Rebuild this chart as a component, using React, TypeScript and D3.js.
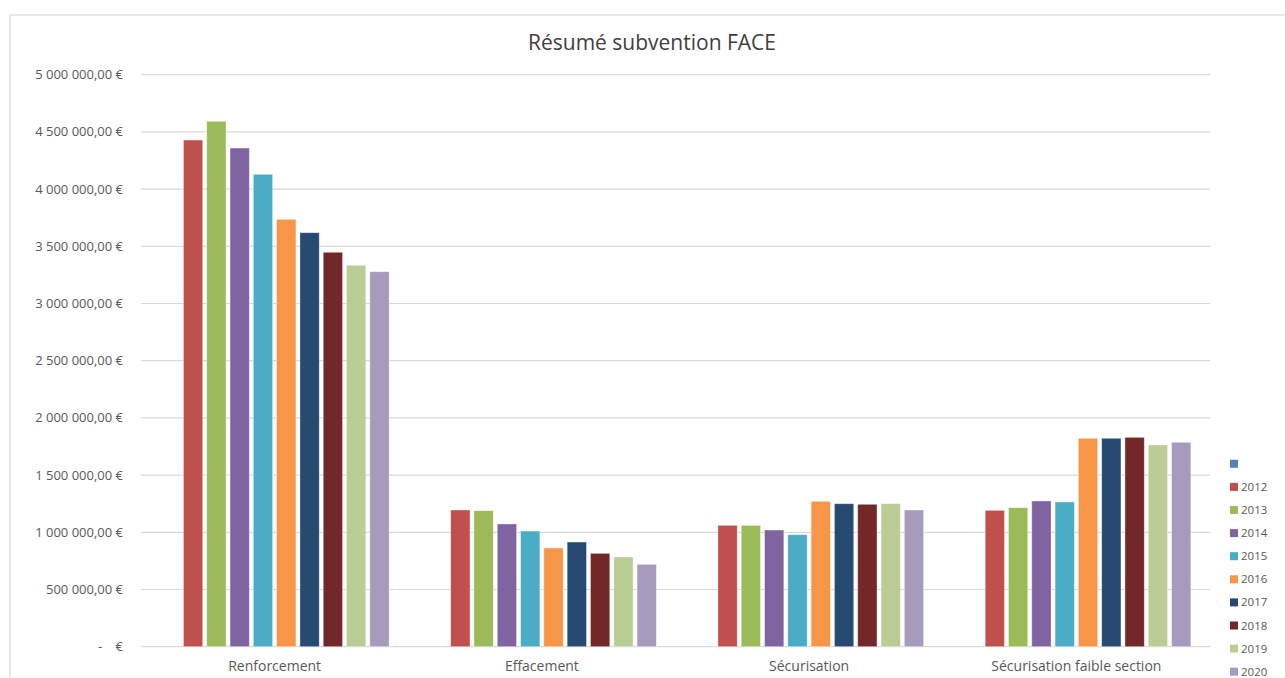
import * as d3 from "d3";

const categories = ["Renforcement", "Effacement", "Sécurisation", "Sécurisation faible section"];
const seriesNames = ["", "2012", "2013", "2014", "2015", "2016", "2017", "2018", "2019", "2020"];
const yTicks = [0, 500000, 1000000, 1500000, 2000000, 2500000, 3000000, 3500000, 4000000, 4500000, 5000000];

// first (unnamed) series is empty in the source chart
const vBlank = [0, 0, 0, 0];
const v2012 = [4429000, 1195000, 1061000, 1192000];
const v2013 = [4593000, 1189000, 1061000, 1215000];
const v2014 = [4359000, 1073000, 1020000, 1274000];
const v2015 = [4129000, 1011000, 979000, 1265000];
const v2016 = [3736000, 863000, 1271000, 1822000];
const v2017 = [3619000, 915000, 1250000, 1822000];
const v2018 = [3448000, 816000, 1245000, 1830000];
const v2019 = [3334000, 784000, 1250000, 1763000];
const v2020 = [3278000, 720000, 1195000, 1787000];
const seriesValues = [vBlank, v2012, v2013, v2014, v2015, v2016, v2017, v2018, v2019, v2020];

const colors = ["#4F81BD", "#C0504D", "#9BBB59", "#8064A2", "#4BACC6", "#F79646", "#274A72", "#722828", "#BACD94", "#A69BBC"];

const W = 1285;
const H = 678;
const textColor = "#595959";
const font = "'Open Sans', 'Liberation Sans', sans-serif";

const locale = d3.formatLocale({ decimal: ",", thousands: "\u00a0", grouping: [3], currency: ["", " €"] });
const fmt = locale.format(",.2f");
const tickLabel = (v: number) => (v === 0 ? "-\u00a0\u00a0\u00a0\u00a0€" : `${fmt(v)} €`);

export default function App() {
  const x = d3.scaleBand<string>().domain(categories).range([141, 1210]).padding(0);
  const xs = d3
    .scaleBand<string>()
    .domain(seriesNames.map((_, i) => String(i)))
    .range([0, x.bandwidth()])
    .paddingInner(0.17)
    .paddingOuter(0.82);
  const y = d3.scaleLinear().domain([0, 5000000]).range([646.7, 74.7]);

  return (
    <svg
      width={W}
      height={H}
      style={{ position: "absolute", left: 0, top: 0, display: "block", background: "#fff" }}
      fontFamily={font}
    >
      <rect x={10} y={15} width={W + 20} height={H + 20} fill="#fff" stroke="#D9D9D9" strokeWidth={1.2} />
      <text x={652} y={50} textAnchor="middle" fontSize={21} fill="#404040">
        Résumé subvention FACE
      </text>

      {yTicks.map((t) => (
        <g key={t}>
          <line x1={141} x2={1210} y1={y(t)} y2={y(t)} stroke="#D9D9D9" strokeWidth={1.2} />
          <text x={123} y={y(t)} dy="0.35em" textAnchor="end" fontSize={13} fill={textColor}>
            {tickLabel(t)}
          </text>
        </g>
      ))}

      {categories.map((c, ci) => (
        <g key={c} transform={`translate(${x(c)},0)`}>
          {seriesValues.map((vals, si) =>
            vals[ci] > 0 ? (
              <rect
                key={si}
                x={xs(String(si))}
                y={y(vals[ci])}
                width={xs.bandwidth()}
                height={y(0) - y(vals[ci])}
                fill={colors[si]}
                stroke="#fff"
                strokeOpacity={0.5}
                strokeWidth={0.8}
              />
            ) : null
          )}
          <text x={x.bandwidth() / 2} y={671} textAnchor="middle" fontSize={14} fill={textColor}>
            {c}
          </text>
        </g>
      ))}

      {seriesNames.map((s, i) => (
        <g key={i} transform={`translate(1230,${463.8 + i * 23.1})`}>
          <rect x={0} y={-4} width={8} height={8} fill={colors[i]} />
          <text x={11} y={0} dy="0.35em" fontSize={11.5} fill={textColor}>
            {s}
          </text>
        </g>
      ))}
    </svg>
  );
}
